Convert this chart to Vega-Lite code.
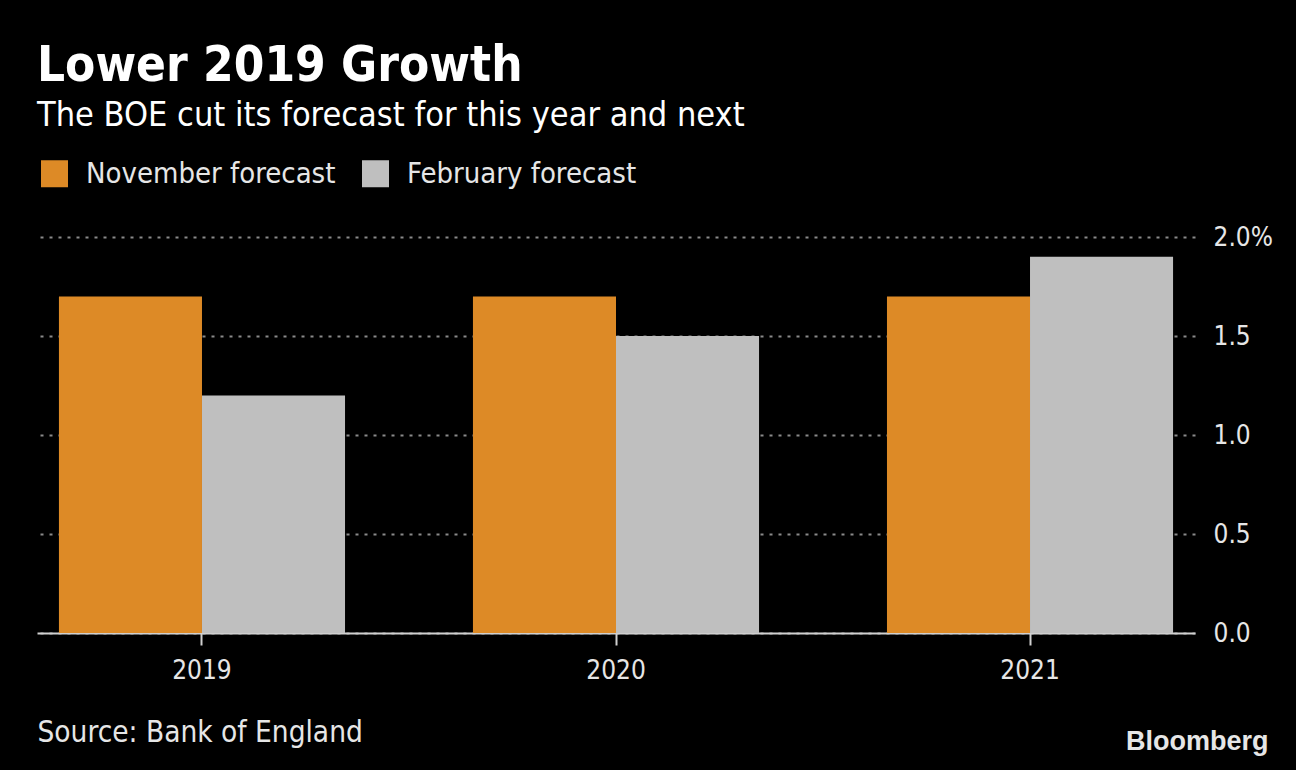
{
  "$schema": "https://vega.github.io/schema/vega-lite/v6.json",
  "width": 1158,
  "height": 396,
  "autosize": "none",
  "padding": {"left": 37, "top": 237, "right": 101, "bottom": 137},
  "background": "#000000",
  "title": {
    "text": "Lower 2019 Growth",
    "subtitle": "The BOE cut its forecast for this year and next",
    "anchor": "start",
    "frame": "group",
    "offset": 26,
    "font": "DejaVu Sans Condensed",
    "fontSize": 49,
    "fontWeight": "bold",
    "color": "#ffffff",
    "subtitleFont": "DejaVu Sans Condensed",
    "subtitleFontSize": 34,
    "subtitleColor": "#ffffff",
    "subtitlePadding": 8
  },
  "data": {
    "values": [
      {"year": "2019", "series": "November forecast", "value": 1.7},
      {"year": "2019", "series": "February forecast", "value": 1.2},
      {"year": "2020", "series": "November forecast", "value": 1.7},
      {"year": "2020", "series": "February forecast", "value": 1.5},
      {"year": "2021", "series": "November forecast", "value": 1.7},
      {"year": "2021", "series": "February forecast", "value": 1.9}
    ]
  },
  "mark": {"type": "bar"},
  "encoding": {
    "x": {
      "field": "year",
      "type": "nominal",
      "scale": {"paddingInner": 0.309, "paddingOuter": 0.053},
      "axis": {
        "title": "Source: Bank of England",
        "titleAnchor": "start",
        "titleAlign": "left",
        "titleBaseline": "alphabetic",
        "titleX": 0,
        "titleY": 108,
        "titleFont": "DejaVu Sans Condensed",
        "titleFontSize": 29.5,
        "titleFontWeight": "normal",
        "titleColor": "#e6e6e6",
        "labelAngle": 0,
        "labelFont": "DejaVu Sans Condensed",
        "labelFontSize": 26,
        "labelColor": "#e6e6e6",
        "labelPadding": 12,
        "domainColor": "#d0d0d0",
        "domainWidth": 2,
        "tickColor": "#d0d0d0",
        "tickWidth": 2,
        "tickSize": 12,
        "grid": false
      }
    },
    "xOffset": {
      "field": "series",
      "type": "nominal",
      "sort": ["November forecast", "February forecast"],
      "scale": {"paddingInner": 0, "paddingOuter": 0}
    },
    "y": {
      "field": "value",
      "type": "quantitative",
      "scale": {"domain": [0, 2]},
      "axis": {
        "orient": "right",
        "values": [0, 0.5, 1, 1.5, 2],
        "labelExpr": "datum.value == 2 ? '2.0%' : format(datum.value, '.1f')",
        "title": "Bloomberg",
        "titleAngle": 0,
        "titleAlign": "right",
        "titleBaseline": "alphabetic",
        "titleX": 73,
        "titleY": 512,
        "titleFont": "Liberation Sans",
        "titleFontSize": 27,
        "titleFontWeight": "bold",
        "titleColor": "#e6e6e6",
        "labelFont": "DejaVu Sans Condensed",
        "labelFontSize": 26,
        "labelColor": "#e6e6e6",
        "labelAlign": "left",
        "labelPadding": 18,
        "ticks": false,
        "domain": false,
        "grid": true,
        "gridColor": "#8a8a8a",
        "gridWidth": 2,
        "gridDash": [3, 6]
      }
    },
    "color": {
      "field": "series",
      "type": "nominal",
      "scale": {
        "domain": ["November forecast", "February forecast"],
        "range": ["#dd8a26", "#bfbfbf"]
      },
      "legend": {
        "title": null,
        "orient": "none",
        "legendX": 3,
        "legendY": -78,
        "direction": "horizontal",
        "symbolType": "square",
        "symbolSize": 729,
        "symbolStrokeWidth": 0,
        "symbolOpacity": 1,
        "labelFont": "DejaVu Sans Condensed",
        "labelFontSize": 29,
        "labelColor": "#e6e6e6",
        "labelOffset": 17,
        "columnPadding": 25,
        "labelLimit": 400
      }
    }
  },
  "config": {
    "view": {"stroke": null},
    "bar": {"stroke": null}
  }
}
